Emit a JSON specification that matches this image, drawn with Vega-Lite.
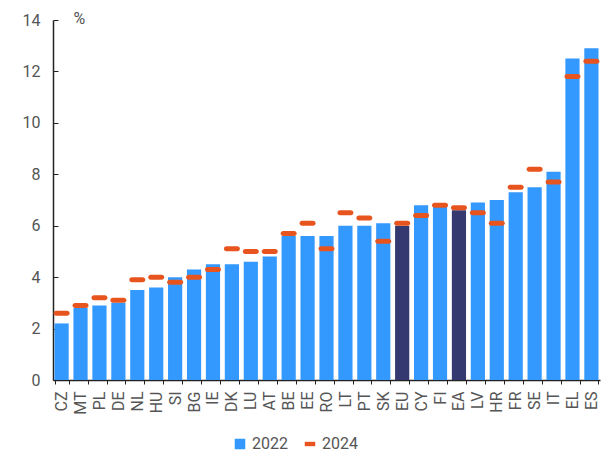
{
  "$schema": "https://vega.github.io/schema/vega-lite/v6.json",
  "width": 547,
  "height": 360,
  "autosize": {"type": "none"},
  "padding": {"left": 53, "top": 20, "right": 1, "bottom": 72},
  "background": "white",
  "config": {
    "view": {"stroke": null},
    "font": "Roboto",
    "axis": {"labelFont": "Roboto", "titleFont": "Roboto", "grid": false}
  },
  "data": {
    "values": [
      {"c": "CZ", "v22": 2.2, "v24": 2.6, "g": "2022"},
      {"c": "MT", "v22": 2.8, "v24": 2.9, "g": "2022"},
      {"c": "PL", "v22": 2.9, "v24": 3.2, "g": "2022"},
      {"c": "DE", "v22": 3.0, "v24": 3.1, "g": "2022"},
      {"c": "NL", "v22": 3.5, "v24": 3.9, "g": "2022"},
      {"c": "HU", "v22": 3.6, "v24": 4.0, "g": "2022"},
      {"c": "SI", "v22": 4.0, "v24": 3.8, "g": "2022"},
      {"c": "BG", "v22": 4.3, "v24": 4.0, "g": "2022"},
      {"c": "IE", "v22": 4.5, "v24": 4.3, "g": "2022"},
      {"c": "DK", "v22": 4.5, "v24": 5.1, "g": "2022"},
      {"c": "LU", "v22": 4.6, "v24": 5.0, "g": "2022"},
      {"c": "AT", "v22": 4.8, "v24": 5.0, "g": "2022"},
      {"c": "BE", "v22": 5.6, "v24": 5.7, "g": "2022"},
      {"c": "EE", "v22": 5.6, "v24": 6.1, "g": "2022"},
      {"c": "RO", "v22": 5.6, "v24": 5.1, "g": "2022"},
      {"c": "LT", "v22": 6.0, "v24": 6.5, "g": "2022"},
      {"c": "PT", "v22": 6.0, "v24": 6.3, "g": "2022"},
      {"c": "SK", "v22": 6.1, "v24": 5.4, "g": "2022"},
      {"c": "EU", "v22": 6.0, "v24": 6.1, "g": "agg"},
      {"c": "CY", "v22": 6.8, "v24": 6.4, "g": "2022"},
      {"c": "FI", "v22": 6.8, "v24": 6.8, "g": "2022"},
      {"c": "EA", "v22": 6.6, "v24": 6.7, "g": "agg"},
      {"c": "LV", "v22": 6.9, "v24": 6.5, "g": "2022"},
      {"c": "HR", "v22": 7.0, "v24": 6.1, "g": "2022"},
      {"c": "FR", "v22": 7.3, "v24": 7.5, "g": "2022"},
      {"c": "SE", "v22": 7.5, "v24": 8.2, "g": "2022"},
      {"c": "IT", "v22": 8.1, "v24": 7.7, "g": "2022"},
      {"c": "EL", "v22": 12.5, "v24": 11.8, "g": "2022"},
      {"c": "ES", "v22": 12.9, "v24": 12.4, "g": "2022"}
    ]
  },
  "encoding": {
    "x": {
      "field": "c",
      "type": "nominal",
      "sort": null,
      "scale": {"paddingInner": 0.25, "paddingOuter": 0.08},
      "axis": {
        "title": null,
        "labelAngle": -90,
        "labelFontSize": 16,
        "labelColor": "#555555",
        "labelPadding": 7,
        "tickBand": "extent",
        "tickSize": 4,
        "tickColor": "#222222",
        "domainColor": "#222222",
        "domainWidth": 1.5
      }
    }
  },
  "layer": [
    {
      "mark": {"type": "bar"},
      "encoding": {
        "y": {
          "field": "v22",
          "type": "quantitative",
          "scale": {"domain": [0, 14], "nice": false},
          "axis": {
            "values": [0, 2, 4, 6, 8, 10, 12, 14],
            "title": "%",
            "titleAngle": 0,
            "titleX": 20,
            "titleY": -2,
            "titleAlign": "left",
            "titleBaseline": "middle",
            "titleFontSize": 16,
            "titleFontWeight": "normal",
            "titleColor": "#555555",
            "labelFontSize": 16,
            "labelColor": "#555555",
            "labelPadding": 18,
            "tickSize": -5,
            "tickColor": "#222222",
            "domainColor": "#222222",
            "domainWidth": 1.5
          }
        },
        "color": {
          "field": "g",
          "type": "nominal",
          "scale": {"domain": ["2022", "2024", "agg"], "range": ["#3399ff", "#e8541e", "#343a70"]},
          "legend": {
            "values": ["2022", "2024"],
            "title": null,
            "orient": "none",
            "direction": "horizontal",
            "legendX": 179,
            "legendY": 416,
            "labelFontSize": 16,
            "labelColor": "#555555",
            "labelOffset": 4,
            "columnPadding": 14,
            "symbolSize": 110,
            "symbolStrokeWidth": 0,
            "encode": {
              "symbols": {
                "update": {
                  "shape": {"signal": "datum.value === '2024' ? 'M-1,-0.42H1V0.42H-1Z' : 'square'"}
                }
              }
            }
          }
        }
      }
    },
    {
      "mark": {"type": "tick", "orient": "horizontal", "thickness": 5, "size": 16, "cornerRadius": 2.5, "color": "#e8541e", "opacity": 1},
      "encoding": {
        "y": {"field": "v24", "type": "quantitative"}
      }
    }
  ]
}
